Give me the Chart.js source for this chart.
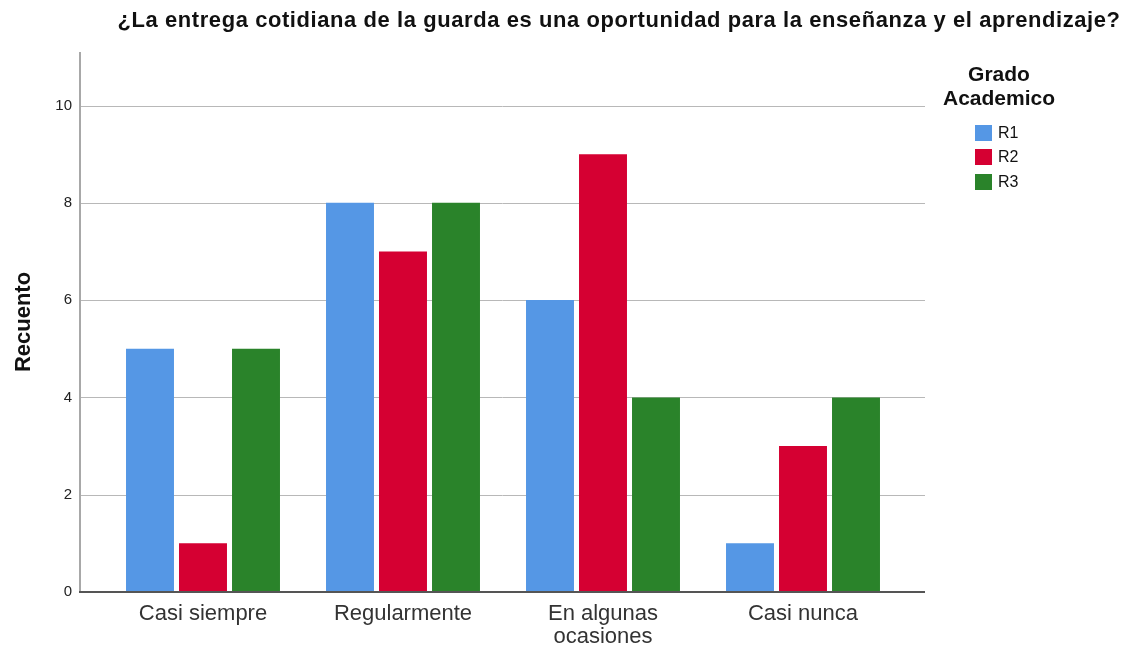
<!DOCTYPE html>
<html>
<head>
<meta charset="utf-8">
<script src="https://cdn.jsdelivr.net/npm/chart.js@4/dist/chart.umd.min.js"></script>
<style>
  body { margin: 0; background: #fff; }
  #wrap { width: 1128px; height: 652px; }
</style>
</head>
<body>
<div id="wrap"><canvas id="grafico" width="1128" height="652"></canvas></div>
<script>
// Datos
const categorias = ['Casi siempre', 'Regularmente', ['En algunas', 'ocasiones'], 'Casi nunca'];
const serieR1 = [5, 8, 6, 1];
const serieR2 = [1, 7, 9, 3];
const serieR3 = [5, 8, 4, 4];
const ticksY = [0, 2, 4, 6, 8, 10];

const titulo = '¿La entrega cotidiana de la guarda es una oportunidad para la enseñanza y el aprendizaje?';
const tituloLeyenda = ['Grado', 'Academico'];
const fuente = "'Liberation Sans', Arial, sans-serif";

// Rejilla extendida, ejes, título y leyenda al estilo SPSS
const extras = {
    id: 'extras',
    beforeDatasetsDraw(chart) {
        const ctx = chart.ctx;
        const y = chart.scales.y;
        ctx.save();
        ctx.strokeStyle = '#b8b8b8';
        ctx.lineWidth = 1;
        ticksY.forEach(v => {
            if (v === 0) return;
            const py = Math.round(y.getPixelForValue(v)) + 0.5;
            ctx.beginPath();
            ctx.moveTo(80, py);
            ctx.lineTo(925, py);
            ctx.stroke();
        });
        ctx.restore();
    },
    afterDatasetsDraw(chart) {
        const ctx = chart.ctx;
        const y = chart.scales.y;
        const y0 = y.getPixelForValue(0);
        ctx.save();
        ctx.strokeStyle = '#a8a8a8';
        ctx.lineWidth = 2;
        ctx.beginPath();
        ctx.moveTo(80, chart.chartArea.top);
        ctx.lineTo(80, y0);
        ctx.stroke();
        ctx.strokeStyle = '#555';
        ctx.beginPath();
        ctx.moveTo(79, y0);
        ctx.lineTo(925, y0);
        ctx.stroke();
        ctx.restore();
    },
    afterDraw(chart) {
        const ctx = chart.ctx;
        ctx.save();
        ctx.fillStyle = '#111';
        ctx.textBaseline = 'middle';
        ctx.textAlign = 'center';
        ctx.font = 'bold 22px ' + fuente;
        ctx.letterSpacing = '0.6px';
        ctx.fillText(titulo, 619, 21, 1003);
        ctx.letterSpacing = '0px';

        ctx.font = 'bold 21px ' + fuente;
        ctx.fillText(tituloLeyenda[0], 999, 75);
        ctx.fillText(tituloLeyenda[1], 999, 99);

        ctx.textAlign = 'left';
        ctx.font = '16px ' + fuente;
        const filas = [133, 157, 182];
        chart.data.datasets.forEach((ds, i) => {
            ctx.fillStyle = ds.backgroundColor;
            ctx.fillRect(975, filas[i] - 8, 17, 16);
            ctx.fillStyle = '#111';
            ctx.fillText(ds.label, 998, filas[i] + 1);
        });
        ctx.restore();
    }
};

new Chart(document.getElementById('grafico'), {
    type: 'bar',
    data: {
        labels: categorias,
        datasets: [
            { label: 'R1', data: serieR1, backgroundColor: '#5597e5' },
            { label: 'R2', data: serieR2, backgroundColor: '#d50032' },
            { label: 'R3', data: serieR3, backgroundColor: '#2a832a' }
        ]
    },
    options: {
        responsive: false,
        animation: false,
        layout: { padding: { top: 52, right: 225, left: 0, bottom: 0 } },
        datasets: {
            bar: { categoryPercentage: 0.795, barPercentage: 0.905 }
        },
        scales: {
            x: {
                grid: { display: false, drawTicks: false },
                border: { display: false },
                ticks: {
                    color: '#333',
                    padding: 10,
                    maxRotation: 0,
                    font: { family: fuente, size: 22, lineHeight: 1.05 }
                },
                afterFit(scale) { scale.height = 60; }
            },
            y: {
                min: 0,
                max: 11.1,
                afterBuildTicks(scale) {
                    scale.ticks = ticksY.map(v => ({ value: v }));
                },
                grid: { display: false, drawTicks: false },
                border: { display: false },
                ticks: {
                    color: '#222',
                    padding: 31,
                    font: { family: fuente, size: 15 }
                },
                title: {
                    display: true,
                    text: 'Recuento',
                    color: '#111',
                    padding: { top: 11, bottom: 0 },
                    font: { family: fuente, size: 22, weight: 'bold' }
                },
                afterFit(scale) { scale.width = 103; }
            }
        },
        plugins: {
            legend: { display: false },
            title: { display: false },
            tooltip: { enabled: false }
        }
    },
    plugins: [extras]
});
</script>
</body>
</html>
